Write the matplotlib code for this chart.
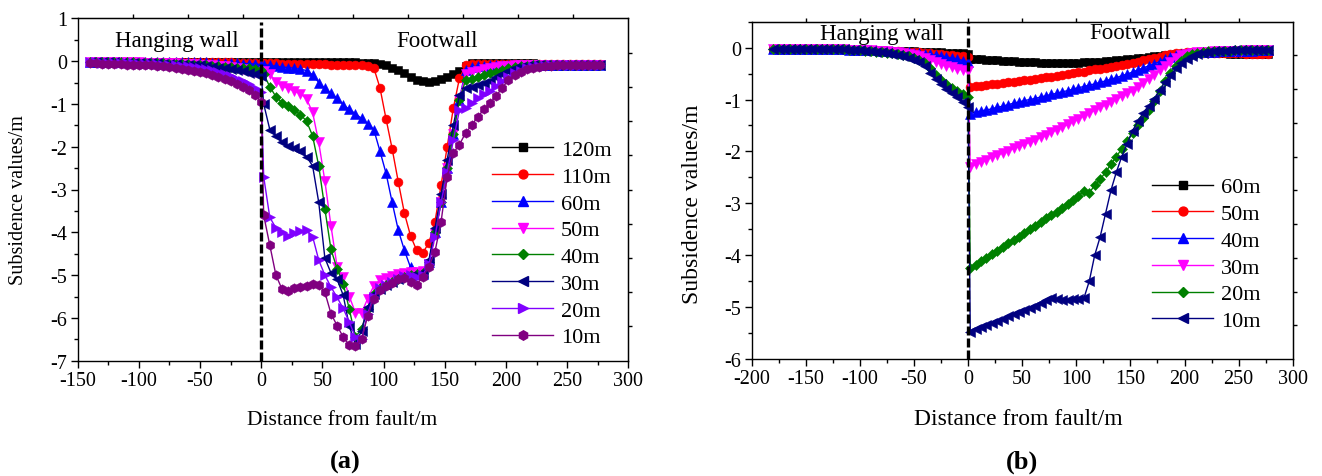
import numpy as np
import matplotlib
matplotlib.use("Agg")
import matplotlib.pyplot as plt
from matplotlib.lines import Line2D
from matplotlib.ticker import MultipleLocator

plt.rcParams['font.family'] = ['Liberation Serif', 'DejaVu Serif']

# ---------------- Panel (a) data ----------------
xa_hang = np.arange(-140, 1, 5)          # hanging wall stations, -140 ... 0
xa_foot = np.arange(2, 278, 5)           # footwall stations, 2 ... 277

labels_a = ['120m', '110m', '60m', '50m', '40m', '30m', '20m', '10m']

a_hang = {
    '120m': [-0.02,-0.02,-0.02,-0.02,-0.02,-0.02,-0.02,-0.02,-0.02,-0.02,-0.02,-0.02,-0.02,-0.02,-0.02,
             -0.02,-0.02,-0.02,-0.02,-0.02,-0.02,-0.02,-0.03,-0.03,-0.03,-0.03,-0.03,-0.03,-0.03],
    '110m': [-0.02,-0.02,-0.02,-0.02,-0.02,-0.02,-0.02,-0.02,-0.02,-0.02,-0.02,-0.02,-0.02,-0.02,-0.02,
             -0.02,-0.02,-0.02,-0.02,-0.02,-0.03,-0.03,-0.03,-0.03,-0.04,-0.04,-0.04,-0.05,-0.05],
    '60m':  [-0.02,-0.02,-0.02,-0.02,-0.02,-0.02,-0.02,-0.02,-0.02,-0.02,-0.02,-0.02,-0.02,-0.02,-0.02,
             -0.02,-0.03,-0.03,-0.03,-0.03,-0.04,-0.04,-0.04,-0.05,-0.05,-0.06,-0.06,-0.07,-0.08],
    '50m':  [-0.02,-0.02,-0.02,-0.02,-0.03,-0.03,-0.03,-0.03,-0.03,-0.04,-0.04,-0.04,-0.05,-0.05,-0.05,
             -0.06,-0.06,-0.07,-0.08,-0.09,-0.10,-0.11,-0.12,-0.14,-0.16,-0.19,-0.22,-0.26,-0.30],
    '40m':  [-0.02,-0.02,-0.02,-0.02,-0.03,-0.03,-0.03,-0.03,-0.04,-0.04,-0.04,-0.05,-0.05,-0.06,-0.06,
             -0.07,-0.07,-0.08,-0.09,-0.10,-0.11,-0.12,-0.13,-0.14,-0.15,-0.16,-0.17,-0.19,-0.20],
    '30m':  [-0.03,-0.03,-0.03,-0.03,-0.03,-0.04,-0.04,-0.04,-0.04,-0.05,-0.05,-0.05,-0.06,-0.06,-0.07,
             -0.08,-0.08,-0.09,-0.10,-0.11,-0.13,-0.15,-0.17,-0.19,-0.21,-0.24,-0.27,-0.31,-0.35],
    '20m':  [-0.03,-0.03,-0.04,-0.04,-0.04,-0.05,-0.05,-0.05,-0.06,-0.06,-0.07,-0.07,-0.08,-0.09,-0.10,
             -0.11,-0.12,-0.14,-0.16,-0.18,-0.21,-0.25,-0.30,-0.35,-0.41,-0.47,-0.54,-0.62,-0.72],
    '10m':  [-0.05,-0.05,-0.06,-0.06,-0.07,-0.07,-0.08,-0.08,-0.09,-0.10,-0.10,-0.11,-0.12,-0.14,-0.16,
             -0.18,-0.20,-0.22,-0.25,-0.28,-0.32,-0.36,-0.41,-0.47,-0.54,-0.61,-0.68,-0.80,-0.95],
}

a_foot = {
    '120m': [-0.03,-0.03,-0.03,-0.03,-0.03,-0.03,-0.03,-0.03,-0.03,-0.03,-0.03,-0.03,-0.03,-0.03,-0.03,-0.03,-0.04,-0.04,
             -0.05,-0.07,-0.10,-0.15,-0.20,-0.28,-0.36,-0.43,-0.47,-0.48,-0.46,-0.42,-0.37,-0.31,-0.24,-0.12,
             -0.05,-0.05,-0.05,-0.05,-0.05,-0.05,-0.05,-0.05,-0.05,-0.05,-0.05,-0.06,-0.06,-0.06,-0.06,-0.06,-0.06,-0.06,-0.06,-0.06,-0.06,-0.06],
    '110m': [-0.05,-0.05,-0.05,-0.06,-0.06,-0.06,-0.06,-0.07,-0.07,-0.07,-0.07,-0.08,-0.08,-0.08,-0.09,-0.09,-0.10,-0.11,
             -0.16,-0.62,-1.35,-2.05,-2.82,-3.55,-4.08,-4.42,-4.48,-4.25,-3.75,-2.90,-2.00,-1.10,-0.40,-0.10,
             -0.07,-0.07,-0.07,-0.07,-0.07,-0.07,-0.07,-0.07,-0.07,-0.07,-0.07,-0.07,-0.07,-0.07,-0.07,-0.07,-0.07,-0.07,-0.07,-0.07,-0.07,-0.07],
    '60m':  [-0.08,-0.10,-0.12,-0.14,-0.15,-0.17,-0.19,-0.22,-0.32,-0.50,-0.64,-0.75,-0.87,-1.02,-1.13,-1.23,-1.34,-1.46,
             -1.60,-2.10,-2.62,-3.30,-3.95,-4.42,-4.82,-4.97,-4.98,-4.70,-4.00,-3.30,-2.50,-1.70,-0.90,-0.20,
             -0.14,-0.12,-0.11,-0.10,-0.10,-0.09,-0.09,-0.09,-0.09,-0.08,-0.08,-0.08,-0.08,-0.08,-0.08,-0.08,-0.08,-0.08,-0.08,-0.08,-0.08,-0.08],
    '50m':  [-0.22,-0.30,-0.48,-0.58,-0.64,-0.70,-0.76,-0.88,-1.20,-1.90,-2.80,-3.85,-4.80,-5.05,-5.50,-5.88,-5.88,-5.55,
             -5.25,-5.12,-5.06,-5.02,-4.98,-4.95,-4.93,-4.92,-4.90,-4.75,-4.05,-3.30,-2.50,-1.70,-0.90,-0.30,
             -0.26,-0.22,-0.19,-0.16,-0.14,-0.12,-0.11,-0.10,-0.10,-0.09,-0.09,-0.09,-0.09,-0.08,-0.08,-0.08,-0.08,-0.08,-0.08,-0.08,-0.08,-0.08],
    '40m':  [-0.30,-0.60,-0.83,-0.97,-1.06,-1.15,-1.25,-1.40,-1.75,-2.45,-3.45,-4.40,-4.85,-5.20,-5.80,-6.45,-6.25,-5.80,
             -5.45,-5.30,-5.22,-5.15,-5.10,-5.05,-5.00,-4.98,-4.95,-4.70,-4.00,-3.30,-2.50,-1.70,-0.90,-0.45,
             -0.42,-0.38,-0.33,-0.28,-0.25,-0.21,-0.17,-0.14,-0.12,-0.11,-0.10,-0.10,-0.09,-0.09,-0.09,-0.09,-0.08,-0.08,-0.08,-0.08,-0.08,-0.08],
    '30m':  [-1.00,-1.60,-1.75,-1.90,-1.99,-2.04,-2.11,-2.23,-2.45,-3.30,-4.60,-4.95,-5.10,-5.47,-6.20,-6.60,-6.30,-5.75,
             -5.45,-5.32,-5.22,-5.15,-5.10,-5.05,-5.02,-5.00,-4.95,-4.65,-3.90,-3.10,-2.30,-1.50,-0.80,-0.64,
             -0.60,-0.56,-0.51,-0.46,-0.38,-0.30,-0.22,-0.17,-0.13,-0.11,-0.10,-0.10,-0.09,-0.09,-0.09,-0.09,-0.08,-0.08,-0.08,-0.08,-0.08,-0.08],
    '20m':  [-2.70,-3.65,-3.90,-4.00,-4.08,-4.02,-3.98,-3.95,-4.10,-4.65,-5.00,-5.28,-5.52,-5.78,-6.10,-6.45,-6.50,-5.90,
             -5.50,-5.30,-5.22,-5.15,-5.08,-5.03,-5.00,-5.05,-5.00,-4.75,-4.10,-3.30,-2.60,-1.85,-1.15,-1.10,
             -0.98,-0.87,-0.78,-0.70,-0.58,-0.47,-0.37,-0.28,-0.22,-0.17,-0.14,-0.12,-0.11,-0.10,-0.10,-0.09,-0.09,-0.09,-0.08,-0.08,-0.08,-0.08],
    '10m':  [-3.60,-4.30,-5.00,-5.33,-5.36,-5.31,-5.28,-5.25,-5.20,-5.22,-5.40,-5.90,-6.18,-6.45,-6.64,-6.65,-6.50,-5.95,
             -5.55,-5.35,-5.25,-5.18,-5.10,-5.07,-5.15,-5.22,-5.05,-4.80,-4.45,-3.75,-2.70,-2.15,-1.95,-1.68,
             -1.50,-1.30,-1.13,-0.98,-0.82,-0.62,-0.45,-0.33,-0.25,-0.19,-0.15,-0.13,-0.12,-0.11,-0.10,-0.10,-0.09,-0.09,-0.09,-0.09,-0.08,-0.08],
}

# ---------------- Panel (b) data ----------------
xb_hang = np.arange(-180, 1, 5)          # -180 ... 0
xb_foot = np.arange(2, 278, 5)           # 2 ... 277

labels_b = ['60m', '50m', '40m', '30m', '20m', '10m']

b_hang_far = [-0.02,-0.02,-0.02,-0.02,-0.02,-0.02,-0.02,-0.02,-0.03,-0.03,-0.03,-0.03,-0.03,-0.03,-0.04,-0.04,-0.04]  # -180 ... -100
b_hang = {
    '60m': b_hang_far + [-0.04,-0.05,-0.05,-0.05,-0.06,-0.06,-0.06,-0.07,-0.07,-0.07,-0.08,-0.08,-0.08,-0.09,-0.09,-0.10,-0.10,-0.11,-0.11,-0.12],
    '50m': b_hang_far + [-0.04,-0.05,-0.05,-0.06,-0.06,-0.07,-0.07,-0.08,-0.08,-0.09,-0.09,-0.10,-0.11,-0.12,-0.13,-0.14,-0.15,-0.16,-0.17,-0.18],
    '40m': b_hang_far + [-0.04,-0.05,-0.05,-0.06,-0.06,-0.07,-0.08,-0.08,-0.09,-0.10,-0.11,-0.12,-0.13,-0.15,-0.16,-0.18,-0.20,-0.22,-0.25,-0.28],
    '30m': b_hang_far + [-0.05,-0.05,-0.06,-0.06,-0.07,-0.08,-0.09,-0.10,-0.12,-0.15,-0.17,-0.20,-0.24,-0.28,-0.31,-0.35,-0.38,-0.41,-0.43,-0.45],
    '20m': b_hang_far + [-0.06,-0.07,-0.08,-0.09,-0.10,-0.11,-0.12,-0.14,-0.16,-0.19,-0.23,-0.30,-0.40,-0.52,-0.62,-0.70,-0.78,-0.84,-0.90,-0.95],
    '10m': b_hang_far + [-0.06,-0.07,-0.08,-0.09,-0.10,-0.12,-0.14,-0.16,-0.19,-0.23,-0.28,-0.36,-0.48,-0.60,-0.70,-0.80,-0.88,-0.96,-1.05,-1.15],
}

b_foot = {
    '60m': [-0.21,-0.22,-0.22,-0.23,-0.23,-0.24,-0.25,-0.26,-0.26,-0.27,-0.27,-0.28,-0.28,-0.29,-0.29,-0.30,-0.30,-0.30,-0.30,-0.29,
            -0.29,-0.28,-0.28,-0.27,-0.27,-0.26,-0.25,-0.24,-0.23,-0.22,-0.21,-0.20,-0.19,-0.18,-0.17,-0.16,-0.15,-0.14,-0.13,-0.12,
            -0.11,-0.11,-0.11,-0.11,-0.11,-0.11,-0.11,-0.11,-0.12,-0.12,-0.12,-0.12,-0.12,-0.12,-0.12,-0.12],
    '50m': [-0.76,-0.74,-0.73,-0.72,-0.71,-0.70,-0.69,-0.67,-0.66,-0.65,-0.63,-0.62,-0.60,-0.59,-0.57,-0.56,-0.54,-0.52,-0.50,-0.49,
            -0.47,-0.46,-0.44,-0.42,-0.41,-0.39,-0.37,-0.35,-0.33,-0.31,-0.29,-0.27,-0.24,-0.22,-0.20,-0.18,-0.15,-0.13,-0.11,-0.10,
            -0.09,-0.09,-0.09,-0.10,-0.10,-0.10,-0.10,-0.11,-0.11,-0.11,-0.11,-0.12,-0.12,-0.12,-0.12,-0.12],
    '40m': [-1.27,-1.24,-1.22,-1.20,-1.18,-1.15,-1.13,-1.10,-1.07,-1.05,-1.02,-1.00,-0.98,-0.95,-0.93,-0.90,-0.88,-0.85,-0.83,-0.80,
            -0.77,-0.75,-0.72,-0.70,-0.67,-0.64,-0.61,-0.58,-0.54,-0.51,-0.47,-0.43,-0.39,-0.35,-0.31,-0.27,-0.22,-0.18,-0.15,-0.13,
            -0.12,-0.10,-0.09,-0.09,-0.08,-0.08,-0.07,-0.07,-0.07,-0.06,-0.06,-0.06,-0.06,-0.05,-0.05,-0.05],
    '30m': [-2.30,-2.25,-2.20,-2.16,-2.11,-2.07,-2.03,-1.99,-1.94,-1.90,-1.86,-1.82,-1.78,-1.73,-1.68,-1.63,-1.58,-1.53,-1.48,-1.42,
            -1.37,-1.31,-1.26,-1.20,-1.15,-1.10,-1.04,-0.99,-0.94,-0.88,-0.83,-0.76,-0.69,-0.61,-0.52,-0.43,-0.35,-0.27,-0.20,-0.15,
            -0.12,-0.10,-0.09,-0.08,-0.08,-0.07,-0.07,-0.07,-0.06,-0.06,-0.06,-0.05,-0.05,-0.05,-0.05,-0.05],
    '20m': [-4.25,-4.18,-4.11,-4.05,-3.98,-3.91,-3.84,-3.77,-3.70,-3.64,-3.57,-3.50,-3.43,-3.36,-3.29,-3.23,-3.16,-3.09,-3.02,-2.94,
            -2.86,-2.76,-2.80,-2.65,-2.54,-2.40,-2.25,-2.10,-1.95,-1.80,-1.65,-1.50,-1.35,-1.20,-1.02,-0.83,-0.64,-0.48,-0.35,-0.25,
            -0.17,-0.12,-0.10,-0.08,-0.07,-0.07,-0.06,-0.06,-0.06,-0.05,-0.05,-0.05,-0.05,-0.04,-0.04,-0.04],
    '10m': [-5.48,-5.42,-5.38,-5.34,-5.30,-5.27,-5.22,-5.18,-5.14,-5.10,-5.06,-5.02,-4.98,-4.93,-4.87,-4.83,-4.84,-4.86,-4.87,-4.85,
            -4.84,-4.83,-4.50,-4.00,-3.65,-3.20,-2.75,-2.40,-2.10,-1.85,-1.60,-1.42,-1.25,-1.12,-0.98,-0.82,-0.66,-0.53,-0.40,-0.30,
            -0.22,-0.16,-0.12,-0.10,-0.08,-0.07,-0.06,-0.06,-0.05,-0.05,-0.05,-0.04,-0.04,-0.04,-0.04,-0.04],
}

# ---------------- styles ----------------
style = {
    '120m': ('#000000', 's', 5.4),
    '110m': ('#FF0000', 'o', 6.4),
    '60m':  ('#0000FF', '^', 7.0),
    '50m':  ('#FF00FF', 'v', 7.0),
    '40m':  ('#008000', 'D', 5.4),
    '30m':  ('#000080', '<', 7.0),
    '20m':  ('#8000FF', '>', 7.0),
    '10m':  ('#800080', 'h', 6.8),
}
style_b = {
    '60m': ('#000000', 's', 5.4),
    '50m': ('#FF0000', 'o', 6.4),
    '40m': ('#0000FF', '^', 7.0),
    '30m': ('#FF00FF', 'v', 7.0),
    '20m': ('#008000', 'D', 5.4),
    '10m': ('#000080', '<', 7.0),
}

W, H = 1322, 477
fig = plt.figure(figsize=(W / 100, H / 100), dpi=100)

def px_axes(l, t, r, b):
    return fig.add_axes([l / W, 1 - b / H, (r - l) / W, (b - t) / H])

ax_a = px_axes(77.7, 19.3, 628.3, 361.7)
ax_b = px_axes(751.7, 22.7, 1292.7, 360.0)

TICK_FS = 14.5

def setup_axes(ax, xlim, ylim, top_ticks, right_ticks):
    ax.set_xlim(*xlim)
    ax.set_ylim(*ylim)
    ax.xaxis.set_major_locator(MultipleLocator(50))
    ax.xaxis.set_minor_locator(MultipleLocator(25))
    ax.yaxis.set_major_locator(MultipleLocator(1))
    ax.yaxis.set_minor_locator(MultipleLocator(0.5))
    ax.tick_params(which='major', direction='out', length=5, width=1.0,
                   labelsize=TICK_FS, top=False, right=False, pad=2.5)
    ax.tick_params(which='minor', direction='out', length=3, width=1.0,
                   top=False, right=False)
    for s in ax.spines.values():
        s.set_linewidth(1.0)
    sx = ax.secondary_xaxis('top')
    sx.set_xticks(top_ticks)
    sx.set_xticklabels([])
    sx.tick_params(direction='out', length=3, width=1.0)
    sy = ax.secondary_yaxis('right')
    sy.set_yticks(right_ticks)
    sy.set_yticklabels([])
    sy.tick_params(direction='out', length=3, width=1.0)
    ax.xaxis.set_major_formatter(plt.FuncFormatter(lambda v, p: f"{v:.0f}"))
    ax.yaxis.set_major_formatter(plt.FuncFormatter(lambda v, p: f"{v:.0f}"))

setup_axes(ax_a, (-150, 300), (-7, 1),
           [-150 + 45 * k for k in range(1, 10)],
           [-7 + 0.8 * k for k in range(1, 10)])
setup_axes(ax_b, (-200, 300), (-6, 0.5),
           [-200 + 50 * k for k in range(1, 10)],
           [-6 + 0.65 * k for k in range(1, 10)])

def draw(ax, labels, hang, foot, xh, xf, sty):
    handles = []
    for lab in labels:
        c, m, ms = sty[lab]
        x = np.concatenate([xh, xf])
        y = np.concatenate([hang[lab], foot[lab]])
        ax.plot(x, y, color=c, lw=1.0, marker=m, ms=ms, mfc=c, mec=c, mew=0.4)
        handles.append(Line2D([], [], color=c, lw=1.0, marker=m, ms=ms, mfc=c, mec=c))
    return handles

h_a = draw(ax_a, labels_a, a_hang, a_foot, xa_hang, xa_foot, style)
h_b = draw(ax_b, labels_b, b_hang, b_foot, xb_hang, xb_foot, style_b)

ax_a.axvline(0, ymin=0, ymax=0.99, color='k', lw=2.4, ls=(0, (2.7, 0.9)), zorder=6)
ax_b.axvline(0, color='k', lw=2.4, ls=(0, (2.7, 0.9)), zorder=6)

ax_a.text(-69, 0.47, 'Hanging wall', fontsize=16.5, ha='center', va='center')
ax_a.text(144, 0.47, 'Footwall', fontsize=16.5, ha='center', va='center')
ax_b.text(-80, 0.27, 'Hanging wall', fontsize=16.5, ha='center', va='center')
ax_b.text(150, 0.29, 'Footwall', fontsize=16.5, ha='center', va='center')

leg_kw = dict(loc='center left', frameon=False, handlelength=2.75, handletextpad=0.35,
              labelspacing=0.28, borderpad=0, borderaxespad=0,
              bbox_transform=fig.transFigure, prop={'size': 16})
fig.legend(h_a, labels_a, bbox_to_anchor=(492 / W, 1 - 244.5 / H), **leg_kw)
fig.legend(h_b, labels_b, bbox_to_anchor=(1152 / W, 1 - 255 / H), **leg_kw)

# axis labels
fig.text(342 / W, 1 - 420.5 / H, 'Distance from fault/m', fontsize=15.5, ha='center', va='center')
fig.text(1018 / W, 1 - 419.5 / H, 'Distance from fault/m', fontsize=17, ha='center', va='center')
fig.text(19 / W, 1 - 200 / H, 'Subsidence values/m', fontsize=14.5, ha='center', va='center', rotation=90)
fig.text(692 / W, 1 - 204 / H, 'Subsidence values/m', fontsize=17, ha='center', va='center', rotation=90)

fig.text(345 / W, 1 - 462 / H, '(a)', fontsize=19, fontweight='bold', ha='center', va='center')
fig.text(1022 / W, 1 - 462 / H, '(b)', fontsize=19, fontweight='bold', ha='center', va='center')

fig.savefig('out.png', dpi=100)
